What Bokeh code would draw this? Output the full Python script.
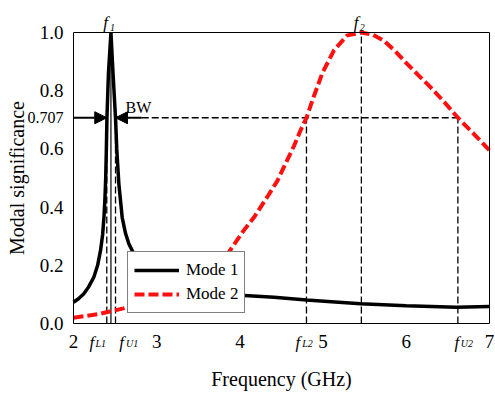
import math
from bokeh.plotting import figure
from bokeh.models import (Range1d, Label, Arrow, NormalHead, Legend, LegendItem,
                          FixedTicker, LinearAxis)
from bokeh.embed import file_html
from bokeh.resources import INLINE

# ---------------- data ----------------
freq_mode1 = [2.000, 2.060, 2.124, 2.180, 2.244, 2.290, 2.325, 2.350, 2.366, 2.378,
              2.387, 2.395, 2.402, 2.420, 2.450, 2.475, 2.505, 2.520, 2.545, 2.585,
              2.625, 2.665, 2.745, 2.850, 3.000, 3.300, 3.600, 4.000, 4.410, 4.800,
              5.100, 5.450, 6.000, 6.600, 7.000]
ms_mode1 = [0.073, 0.085, 0.102, 0.125, 0.159, 0.200, 0.251, 0.305, 0.365, 0.430,
            0.500, 0.600, 0.707, 0.860, 1.000, 0.860, 0.707, 0.600, 0.480, 0.365,
            0.310, 0.274, 0.228, 0.190, 0.160, 0.130, 0.110, 0.097, 0.090, 0.081,
            0.075, 0.068, 0.061, 0.056, 0.058]

freq_mode2 = [2.00, 2.30, 2.60, 2.90, 3.20, 3.50, 3.70, 3.867, 4.047, 4.17,
              4.327, 4.45, 4.548, 4.65, 4.728, 4.80, 4.888, 4.989, 5.129, 5.29,
              5.46, 5.60, 5.73, 5.87, 6.01, 6.15, 6.29, 6.46, 6.62, 6.81, 7.00]
ms_mode2 = [0.020, 0.032, 0.052, 0.075, 0.105, 0.150, 0.195, 0.245, 0.320, 0.365,
            0.434, 0.490, 0.549, 0.610, 0.663, 0.707, 0.780, 0.859, 0.938, 0.990,
            1.000, 0.992, 0.972, 0.935, 0.892, 0.852, 0.812, 0.760, 0.707, 0.652, 0.595]

x_ticks = [2, 3, 4, 5, 6, 7]
y_ticks = [0.0, 0.2, 0.4, 0.6, 0.8, 1.0]
y_tick_labels = ["0.0", "0.2", "0.4", "0.6", "0.8", "1.0"]

half_power = 0.707
f1, fL1, fU1 = 2.45, 2.40, 2.505
f2, fL2, fU2 = 5.46, 4.80, 6.62
bw_arrow_tail = 2.82

# ---------------- layout ----------------
FONT = "Liberation Serif"
W, H = 495, 394
BOX_L, BOX_R, BOX_T, BOX_B = 73, 489, 32, 323      # plot box in pixels
X0, X1, Y0, Y1 = 2.0, 7.0, 0.0, 1.0                # axis limits
sx = (X1 - X0) / (BOX_R - BOX_L)
sy = (Y1 - Y0) / (BOX_B - BOX_T)
x_range = Range1d(X0 - BOX_L * sx, X1 + (W - BOX_R) * sx)
y_range = Range1d(Y0 - (H - BOX_B) * sy, Y1 + BOX_T * sy)

p = figure(width=W, height=H, output_backend="svg", toolbar_location=None,
           x_range=x_range, y_range=y_range, x_axis_location=None,
           y_axis_location=None, min_border=0)
p.xgrid.visible = False
p.ygrid.visible = False
p.outline_line_color = None
p.background_fill_color = "white"
p.border_fill_color = "white"


def make_axis(loc, bounds, ticks, labels, standoff, show_labels=True):
    ax = LinearAxis(fixed_location=loc, bounds=bounds, ticker=FixedTicker(ticks=ticks),
                    major_label_overrides=dict(zip(ticks, labels)),
                    major_label_text_font=FONT, major_label_text_font_size="19px",
                    major_label_text_color="black",
                    major_label_text_alpha=1.0 if show_labels else 0.0,
                    major_label_standoff=standoff, axis_line_color="black",
                    axis_line_width=1, major_tick_line_color=None,
                    minor_tick_line_color=None, major_tick_in=0, major_tick_out=0)
    return ax


p.add_layout(make_axis(Y0, (X0, X1), x_ticks, [str(t) for t in x_ticks], 11), "below")
p.add_layout(make_axis(X0, (Y0, Y1), y_ticks, y_tick_labels, 10), "left")
p.add_layout(make_axis(Y1, (X0, X1), [X0, X1], ["", ""], 6, False), "above")
p.add_layout(make_axis(X1, (Y0, Y1), [Y0, Y1], ["", ""], 6, False), "right")

# axis titles
p.add_layout(Label(x=(X0 + X1) / 2, y=Y0, y_offset=-55, text="Frequency (GHz)",
                   text_font=FONT, text_font_size="20px", text_color="black",
                   text_align="center", text_baseline="middle"))
p.add_layout(Label(x=X0, y=(Y0 + Y1) / 2, x_offset=-57, text="Modal significance",
                   angle=math.pi / 2, text_font=FONT, text_font_size="20px",
                   text_color="black", text_align="center", text_baseline="middle"))
p.add_layout(Label(x=X0, y=half_power, x_offset=-10, text="0.707",
                   text_font=FONT, text_font_size="16px", text_color="black",
                   text_align="right", text_baseline="middle"))

# guide lines
dash = "7 3"
p.segment(x0=[fL1, fU1, fL2, fU2, f2], y0=[Y0] * 5,
          x1=[fL1, fU1, fL2, fU2, f2],
          y1=[half_power, half_power, half_power, half_power, Y1],
          line_color="black", line_width=1.3, line_dash=dash)
p.segment(x0=[bw_arrow_tail], y0=[half_power], x1=[fU2], y1=[half_power],
          line_color="black", line_width=1.3, line_dash=dash)
p.segment(x0=[f1], y0=[Y0], x1=[f1], y1=[Y1], line_color="black", line_width=1.2)

# curves
r1 = p.line(freq_mode1, ms_mode1, line_color="black", line_width=3.5)
r2 = p.line(freq_mode2, ms_mode2, line_color="#ff1010", line_width=4, line_dash="10 4")

# BW arrows
p.add_layout(Arrow(end=NormalHead(size=12, fill_color="black", line_color="black"),
                   x_start=X0, y_start=half_power, x_end=fL1, y_end=half_power,
                   line_width=2, line_color="black"))
p.add_layout(Arrow(end=NormalHead(size=12, fill_color="black", line_color="black"),
                   x_start=bw_arrow_tail, y_start=half_power, x_end=fU1, y_end=half_power,
                   line_width=2, line_color="black"))
p.add_layout(Label(x=fU1, y=half_power, x_offset=10, y_offset=10, text="BW",
                   text_font=FONT, text_font_size="16px", text_color="black",
                   text_align="left", text_baseline="alphabetic"))


def f_label(x, y, sub, f_dx, sub_dx, f_dy, sub_dy):
    p.add_layout(Label(x=x, y=y, x_offset=f_dx, y_offset=f_dy, text="f",
                       text_font=FONT, text_font_size="17px", text_font_style="italic",
                       text_color="black", text_align="center", text_baseline="alphabetic"))
    p.add_layout(Label(x=x, y=y, x_offset=sub_dx, y_offset=sub_dy, text=sub,
                       text_font=FONT, text_font_size="10px", text_font_style="italic",
                       text_color="black", text_align="center", text_baseline="alphabetic"))


f_label(f1, Y1, "1", -5.4, 1.6, 10, 5)
f_label(f2, Y1, "2", -5.2, 0.8, 10, 5)
f_label(fL1, Y0, "L1", -15, -6, -19, -20)
f_label(fU1, Y0, "U1", 6, 16.5, -19, -20)
f_label(fL2, Y0, "L2", -8.5, 1, -19, -20)
f_label(fU2, Y0, "U2", -1, 9, -19, -20)

legend = Legend(items=[LegendItem(label="Mode 1", renderers=[r1]),
                       LegendItem(label="Mode 2", renderers=[r2])],
                location=(127, H - 313), label_text_font=FONT,
                label_text_font_size="17px", label_text_color="black",
                border_line_color="black", border_line_width=1,
                background_fill_color="white", background_fill_alpha=1,
                padding=6, spacing=0, margin=0, glyph_width=45, glyph_height=24,
                label_height=24, label_standoff=7)
p.add_layout(legend)

open("out.html", "w").write(file_html(p, INLINE))
